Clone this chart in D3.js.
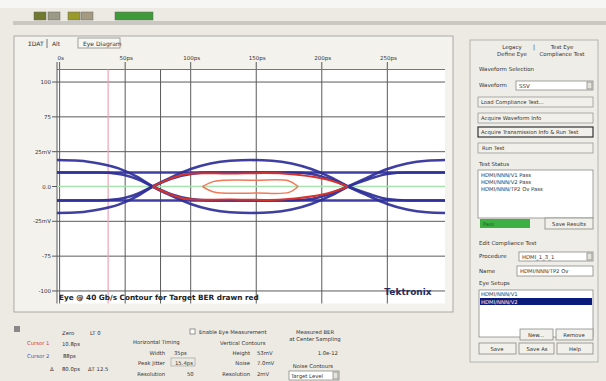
<!DOCTYPE html>
<html><head><meta charset="utf-8">
<script src="https://cdn.jsdelivr.net/npm/d3@7"></script>
<style>
body{margin:0;background:#eceae3;}
svg{display:block}
text{font-family:"DejaVu Sans",sans-serif;}
</style></head>
<body><svg id="c" width="606" height="381"></svg>
<script>
// ---- data ----
const timeTicks=[0,50,100,150,200,250];
const timeTickLabels=["0s","50ps","100ps","150ps","200ps","250ps"];
const voltTicks=[75,50,25,0,-25,-50,-75];
const voltTickLabels=["100","75","25mV","0.0","-25mV","-75","-100"];
const cursorTimes=[37,77];
const traceTime=[-2,15,30,45,60,71,85,100,115,130,146,162,177,192,207,220,235,250,265,280,294];
const outerHigh=[19,18.5,16.5,13,6.5,0,-6.5,-12.5,-16.5,-18.5,-19,-18.5,-16.5,-12.5,-6.5,0,6.5,12.5,16.5,18.5,19];
const outerLow=[-19,-18.5,-16.5,-13,-6.5,0,6.5,12.5,16.5,18.5,19,18.5,16.5,12.5,6.5,0,-6.5,-12.5,-16.5,-18.5,-19];
const innerFall=[10,10,10,9,5,0,-5.5,-9,-10,-10,-10,-10,-10,-9,-5,0,5,9,10,10,10];
const innerRise=[-10,-10,-10,-9,-5,0,5.5,9,10,10,10,10,10,9,5,0,-5,-9,-10,-10,-10];
const levelHigh=[10,10,10,10,10,10,10,10,10,10,10,10,10,10,10,10,10,10,10,10,10];
const levelLow=[-10,-10,-10,-10,-10,-10,-10,-10,-10,-10,-10,-10,-10,-10,-10,-10,-10,-10,-10,-10,-10];
const contourTime=[71,84,97,130,170,204,220];
const contourUpper=[0,5.5,9,9.3,9.3,5,0];
const contourLower=[0,-5.5,-9,-9.3,-9.3,-5,0];
const innerTime=[109,117,124,150,175,182];
const innerUpper=[0,3.5,4.4,4.5,4,0];
const innerLower=[0,-3.8,-4.7,-4.7,-4.2,0];

const svg=d3.select("#c");
const x=d3.scaleLinear().domain([-2,294]).range([57,445]);
const y=d3.scaleLinear().domain([-84,84]).range([303.5,69.5]);

function txt(g,xx,yy,s,opt={}){
  return g.append("text").attr("x",xx).attr("y",yy).text(s)
   .attr("font-size",opt.size||6).attr("fill",opt.fill||"#333")
   .attr("text-anchor",opt.anchor||"start").attr("font-weight",opt.weight||"normal");
}
function box(g,x0,y0,w,h,opt={}){
  return g.append("rect").attr("x",x0).attr("y",y0).attr("width",w).attr("height",h)
   .attr("fill",opt.fill||"#f4f3ee").attr("stroke",opt.stroke||"#8a8a86").attr("stroke-width",opt.sw||0.8);
}

// window background
svg.append("rect").attr("width",606).attr("height",381).attr("fill","#eceae3");
svg.append("rect").attr("x",0).attr("y",0).attr("width",606).attr("height",8).attr("fill","#f6f6f4");
// toolbar
const tb=svg.append("g");
tb.append("rect").attr("x",13).attr("y",21).attr("width",593).attr("height",4).attr("fill","#c9c8c2");
[[34,12,"#6f7a2e"],[48,12,"#9a9a86"],[68,12,"#9a9a2a"],[81,12,"#a49a82"],[115,38,"#3f9a3a"]].forEach(b=>{
  tb.append("rect").attr("x",b[0]).attr("y",12).attr("width",b[1]).attr("height",8).attr("fill",b[2]).attr("stroke","#666").attr("stroke-width",0.5);
});

// chart panel
box(svg,14,36,439,276,{fill:"#f3f2ed",stroke:"#9a9a96"});
// tabs
txt(svg,28,46,"ΣDAT");
svg.append("line").attr("x1",47).attr("x2",47).attr("y1",39).attr("y2",48).attr("stroke","#777");
txt(svg,52,46,"Alt");
box(svg,78,38,42,10,{fill:"#f7f7f3"});
txt(svg,83,46,"Eye Diagram");

// plot area
svg.append("rect").attr("x",57).attr("y",69.5).attr("width",388).attr("height",234).attr("fill","#ffffff");
// grid
const grid=svg.append("g").attr("stroke","#5a5a5a").attr("stroke-width",1);
grid.selectAll("line.v").data(timeTicks).join("line").attr("class","v")
 .attr("x1",d=>x(d)).attr("x2",d=>x(d)).attr("y1",62).attr("y2",303.5);
grid.selectAll("line.h").data(voltTicks.filter(d=>d!==0)).join("line").attr("class","h")
 .attr("x1",52).attr("x2",445).attr("y1",d=>y(d)).attr("y2",d=>y(d));
grid.append("line").attr("x1",57).attr("x2",445).attr("y1",69.5).attr("y2",69.5).attr("stroke","#777");
grid.append("line").attr("x1",57).attr("x2",57).attr("y1",62).attr("y2",303.5);
grid.append("line").attr("x1",52).attr("x2",57).attr("y1",y(0)).attr("y2",y(0));
// axis labels
svg.selectAll("text.tt").data(timeTicks).join("text").attr("class","tt")
 .attr("x",d=>x(d)+1).attr("y",60).attr("text-anchor","middle").attr("font-size",5.5).attr("fill","#333")
 .text((d,i)=>timeTickLabels[i]);
svg.selectAll("text.vt").data(voltTicks).join("text").attr("class","vt")
 .attr("x",51).attr("y",d=>y(d)+2).attr("text-anchor","end").attr("font-size",5.5).attr("fill","#333")
 .text((d,i)=>voltTickLabels[i]);

// cursors
svg.append("line").attr("x1",x(cursorTimes[0])).attr("x2",x(cursorTimes[0])).attr("y1",69.5).attr("y2",303.5).attr("stroke","#f2a0b4").attr("stroke-width",1.2);
svg.append("line").attr("x1",x(cursorTimes[1])).attr("x2",x(cursorTimes[1])).attr("y1",69.5).attr("y2",303.5).attr("stroke","#5a5a5a").attr("stroke-width",1);

// center line
svg.append("line").attr("x1",57).attr("x2",445).attr("y1",y(0)).attr("y2",y(0)).attr("stroke","#a8e0b0").attr("stroke-width",1.4);

// traces
const line=d3.line().x(d=>x(d[0])).y(d=>y(d[1])).curve(d3.curveMonotoneX);
const traces=[levelHigh,levelLow,innerFall,innerRise,outerHigh,outerLow];
svg.append("g").selectAll("path").data(traces).join("path")
 .attr("d",v=>line(traceTime.map((t,i)=>[t,v[i]])))
 .attr("fill","none").attr("stroke","#2e2f98").attr("stroke-width",2.6).attr("stroke-opacity",0.92);

const cl=d3.line().x(d=>x(d[0])).y(d=>y(d[1])).curve(d3.curveCatmullRom);
[contourUpper,contourLower].forEach(v=>{
  svg.append("path").attr("d",cl(contourTime.map((t,i)=>[t,v[i]])))
   .attr("fill","none").attr("stroke","#d8322c").attr("stroke-width",2);
});
[innerUpper,innerLower].forEach(v=>{
  svg.append("path").attr("d",cl(innerTime.map((t,i)=>[t,v[i]])))
   .attr("fill","none").attr("stroke","#f07a58").attr("stroke-width",1.5);
});

// captions
txt(svg,59,300,"Eye @ 40 Gb/s   Contour for Target BER drawn red",{size:7.3,weight:"bold",fill:"#222"});
svg.append("text").attr("x",408).attr("y",294.5).attr("text-anchor","middle").attr("font-family","Liberation Serif").attr("font-weight","bold").attr("font-size",9).attr("fill","#2a2a5a").text("Tektronix");

// right panel
const rp=svg.append("g");
box(rp,470,40,128,322,{fill:"#eeede7",stroke:"#a8a8a4"});
txt(rp,512,49,"Legacy",{anchor:"middle",size:5.5});
txt(rp,512,56,"Define Eye",{anchor:"middle",size:5.5});
txt(rp,533,49,"|",{size:6});
txt(rp,562,49,"Test Eye",{anchor:"middle",size:5.5});
txt(rp,562,56,"Compliance Test",{anchor:"middle",size:5.5});
txt(rp,479,71,"Waveform Selection",{size:5.5});
txt(rp,479,87,"Waveform",{size:5.5});
box(rp,516,81,77,9,{fill:"#fff"});
txt(rp,519,88,"SSV",{size:5.5});
box(rp,587,82,5,7,{fill:"#e4e3dc"});
const btns=[["Load Compliance Test...",97],["Acquire Waveform Info",113],["Acquire Transmission Info & Run Test",127],["Run Test",143]];
btns.forEach((b,i)=>{
  box(rp,478,b[1],115,10,{fill:"#f1f0ea",stroke:i===2?"#333":"#999",sw:i===2?1.2:0.8});
  txt(rp,i===3?482:481,b[1]+7,b[0],{size:5.3});
});
txt(rp,479,166,"Test Status",{size:5.5});
box(rp,478,170,115,48,{fill:"#fff"});
["HDMI/NNN/V1 Pass","HDMI/NNN/V2 Pass","HDMI/NNN/TP2 Ov Pass"].forEach((s,i)=>txt(rp,481,177+i*7,s,{size:5.3}));
rp.append("rect").attr("x",480).attr("y",219).attr("width",50).attr("height",9).attr("fill","#3cb043");
txt(rp,483,226,"Pass",{size:5,fill:"#1a5a1a"});
box(rp,545,218,48,11,{fill:"#f1f0ea"});
txt(rp,569,226,"Save Results",{size:5.3,anchor:"middle"});
txt(rp,479,245,"Edit Compliance Test",{size:5.5});
txt(rp,479,258,"Procedure",{size:5.5});
box(rp,519,252,74,9,{fill:"#fff"});
txt(rp,522,259,"HDMI_1_3_1",{size:5.3});
box(rp,587,253,5,7,{fill:"#e4e3dc"});
txt(rp,479,273,"Name",{size:5.5});
box(rp,517,266,76,10,{fill:"#fff"});
txt(rp,520,273,"HDMI/NNN/TP2 Ov",{size:5.3});
txt(rp,479,285,"Eye Setups",{size:5.5});
box(rp,479,290,114,47,{fill:"#fff"});
txt(rp,481,296,"HDMI/NNN/V1",{size:5.3});
rp.append("rect").attr("x",480).attr("y",298).attr("width",112).attr("height",7).attr("fill","#0a1a7a");
txt(rp,481,304,"HDMI/NNN/V2",{size:5.3,fill:"#fff"});
box(rp,520,329,33,11,{fill:"#f1f0ea"});
txt(rp,536,337,"New...",{size:5.3,anchor:"middle"});
box(rp,556,329,37,11,{fill:"#f1f0ea"});
txt(rp,574,337,"Remove",{size:5.3,anchor:"middle"});
box(rp,479,343,37,11,{fill:"#f1f0ea"});
txt(rp,497,351,"Save",{size:5.3,anchor:"middle"});
box(rp,519,343,35,11,{fill:"#f1f0ea"});
txt(rp,537,351,"Save As",{size:5.3,anchor:"middle"});
box(rp,557,343,36,11,{fill:"#f1f0ea"});
txt(rp,575,351,"Help",{size:5.3,anchor:"middle"});

// bottom control panel
const bp=svg.append("g");
bp.append("rect").attr("x",14).attr("y",326).attr("width",6).attr("height",6).attr("fill","#888");
txt(bp,62,335,"Zero",{size:5.3});
txt(bp,90,335,"LT 0",{size:5.3});
txt(bp,27,345,"Cursor 1",{size:5.3,fill:"#d04040"});
txt(bp,62,346,"10.8ps",{size:5.3});
txt(bp,27,358,"Cursor 2",{size:5.3,fill:"#5050b0"});
txt(bp,63,358,"88ps",{size:5.3});
txt(bp,50,371,"Δ",{size:5.3});
txt(bp,62,371,"80.0ps",{size:5.3});
txt(bp,88,371,"ΔT 12.5",{size:5.3});
txt(bp,133,344,"Horizontal Timing",{size:5.3});
txt(bp,165,355,"Width",{size:5.3,anchor:"end"});
txt(bp,174,355,"35ps",{size:5.3});
txt(bp,165,365,"Peak Jitter",{size:5.3,anchor:"end"});
bp.append("rect").attr("x",171).attr("y",358).attr("width",24).attr("height",8).attr("fill","none").attr("stroke","#999").attr("stroke-width",0.6);
txt(bp,175,365,"15.4ps",{size:5.3});
txt(bp,165,376,"Resolution",{size:5.3,anchor:"end"});
txt(bp,187,376,"50",{size:5.3});
bp.append("rect").attr("x",190).attr("y",329).attr("width",5).attr("height",5).attr("fill","#fff").attr("stroke","#555").attr("stroke-width",0.6);
txt(bp,199,334,"Enable Eye Measurement",{size:5.3});
txt(bp,220,345,"Vertical Contours",{size:5.3});
txt(bp,250,355,"Height",{size:5.3,anchor:"end"});
txt(bp,257,355,"53mV",{size:5.3});
txt(bp,250,365,"Noise",{size:5.3,anchor:"end"});
txt(bp,257,365,"7.0mV",{size:5.3});
txt(bp,250,376,"Resolution",{size:5.3,anchor:"end"});
txt(bp,257,376,"2mV",{size:5.3});
txt(bp,315,334,"Measured BER",{size:5.3,anchor:"middle"});
txt(bp,315,341,"at Center Sampling",{size:5.3,anchor:"middle"});
txt(bp,338,355,"1.0e-12",{size:5.3,anchor:"end"});
txt(bp,313,368,"Noise Contours",{size:5.3,anchor:"middle"});
box(bp,289,371,50,9,{fill:"#fff"});
txt(bp,291,378,"Target Level",{size:5.3});
box(bp,333,372,5,7,{fill:"#e4e3dc"});
</script></body></html>
